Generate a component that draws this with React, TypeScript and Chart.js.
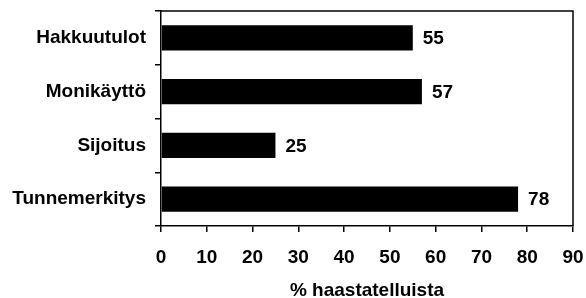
import React, { useEffect, useRef } from "react";
import { Chart, registerables } from "chart.js";

Chart.register(...registerables);

const categories = ["Hakkuutulot", "Monikäyttö", "Sijoitus", "Tunnemerkitys"];
const values = [55, 57, 25, 78];
const xMin = 0;
const xMax = 90;
const xStep = 10;
const xAxisTitle = "% haastatelluista";

const FONT_FAMILY = "'Liberation Sans', Arial, Helvetica, sans-serif";

const valueLabelPlugin = {
  id: "valueLabels",
  afterDatasetsDraw(chart: any) {
    const ctx = chart.ctx;
    const meta = chart.getDatasetMeta(0);
    ctx.save();
    ctx.font = `bold 19px ${FONT_FAMILY}`;
    ctx.fillStyle = "#000";
    ctx.textAlign = "left";
    ctx.textBaseline = "middle";
    meta.data.forEach((el: any, i: number) => {
      ctx.fillText(String(values[i]), el.x + 10, el.y + 1);
    });
    ctx.restore();
  },
};

const framePlugin = {
  id: "frame",
  afterDraw(chart: any) {
    const { ctx, chartArea } = chart;
    ctx.save();
    ctx.strokeStyle = "#000";
    ctx.lineWidth = 1.5;
    ctx.beginPath();
    ctx.moveTo(chartArea.left, chartArea.top);
    ctx.lineTo(chartArea.right, chartArea.top);
    ctx.lineTo(chartArea.right, chartArea.bottom);
    ctx.stroke();
    ctx.restore();
  },
};

export default function App() {
  const ref = useRef<HTMLCanvasElement | null>(null);

  useEffect(() => {
    if (!ref.current) return;
    const chart = new Chart(ref.current, {
      type: "bar",
      data: {
        labels: categories,
        datasets: [
          {
            data: values,
            backgroundColor: "#000",
            borderWidth: 0,
            barPercentage: 0.47,
            categoryPercentage: 1,
          },
        ],
      },
      options: {
        indexAxis: "y",
        animation: false,
        responsive: true,
        maintainAspectRatio: false,
        layout: { padding: { left: 0, top: 11, right: 13, bottom: 0 } },
        plugins: {
          legend: { display: false },
          tooltip: { enabled: false },
        },
        scales: {
          x: {
            min: xMin,
            max: xMax,
            ticks: {
              stepSize: xStep,
              color: "#000",
              padding: 14,
              font: { family: FONT_FAMILY, size: 19, weight: "bold" },
            },
            grid: {
              drawOnChartArea: false,
              drawTicks: true,
              tickLength: 6,
              color: "#000",
              lineWidth: 1.5,
            },
            border: { display: true, color: "#000", width: 1.5 },
            title: {
              display: true,
              text: xAxisTitle,
              color: "#000",
              padding: 0,
              font: { family: FONT_FAMILY, size: 19, weight: "bold", lineHeight: 0.8 },
            },
            afterFit(scale: any) {
              scale.height = 72;
              scale.paddingLeft = 0;
              scale.paddingRight = 0;
              scale.paddingTop = 0;
              scale.paddingBottom = 0;
            },
          },
          y: {
            ticks: {
              color: "#000",
              padding: 9,
              font: { family: FONT_FAMILY, size: 19, weight: "bold" },
            },
            grid: {
              drawOnChartArea: false,
              drawTicks: true,
              tickLength: 6,
              color: "#000",
              lineWidth: 1.5,
              offset: true,
            },
            border: { display: true, color: "#000", width: 1.5 },
            afterFit(scale: any) {
              scale.width = 161;
              scale.paddingLeft = 0;
              scale.paddingRight = 0;
              scale.paddingTop = 0;
              scale.paddingBottom = 0;
            },
          },
        },
      } as any,
      plugins: [valueLabelPlugin, framePlugin],
    });
    return () => chart.destroy();
  }, []);

  return (
    <div style={{ position: "absolute", left: 0, top: 0, width: 586, height: 298, background: "#fff" }}>
      <canvas ref={ref} />
    </div>
  );
}
